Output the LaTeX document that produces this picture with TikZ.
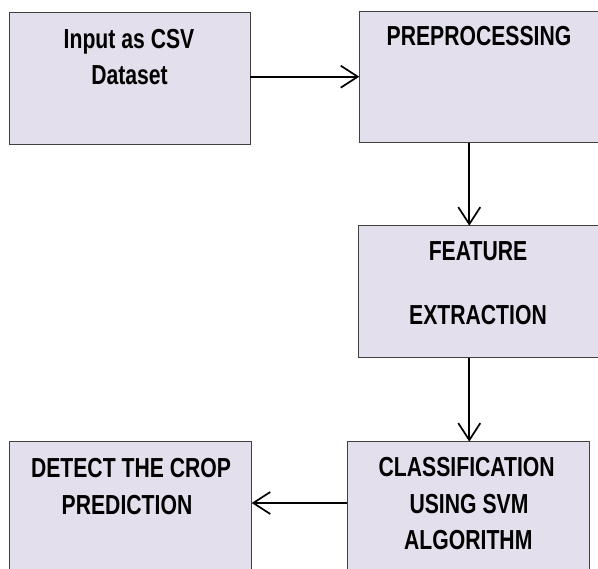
\documentclass[tikz,border=0pt]{standalone}
\usepackage{fontspec}
\setmainfont{Liberation Sans}[FakeStretch=0.77]
\usetikzlibrary{arrows.meta}
\definecolor{boxfill}{RGB}{228,223,236}
\definecolor{boxline}{RGB}{64,64,64}
\tikzset{
  box/.style={draw=boxline, line width=0.9pt, fill=boxfill, rectangle, anchor=north west, inner sep=0pt, outer sep=0pt},
  txt/.style={anchor=base, inner sep=0pt, font=\fontsize{27.5}{31}\selectfont\bfseries},
  conn/.style={line width=1.7pt, -{Straight Barb[length=17pt,width=22pt,line width=1.7pt]}},
}
\begin{document}
\begin{tikzpicture}[x=1pt,y=-1pt]
\useasboundingbox (0,0) rectangle (598,569);
\clip (0,0) rectangle (598,569);
% boxes
\node[box, minimum width=240.7pt, minimum height=132pt] (b1) at (9.3,12.3) {};
\node[box, minimum width=252pt, minimum height=131.7pt] (b2) at (359.3,11) {};
\node[box, minimum width=252pt, minimum height=132pt] (b3) at (358,225.7) {};
\node[box, minimum width=242pt, minimum height=140pt] (b4) at (347.3,441.7) {};
\node[box, minimum width=242.4pt, minimum height=140pt] (b5) at (9.3,441.7) {};
% texts
\node[txt] (t1a) at (129,48.3) {Input as CSV};
\node[txt] (t1b) at (129.5,85) {Dataset};
\node[txt] (t2a) at (479,46) {PREPROCESSING};
\node[txt] (t3a) at (478,261) {FEATURE};
\node[txt] (t3b) at (478,325) {EXTRACTION};
\node[txt] (t4a) at (466.7,476.7) {CLASSIFICATION};
\node[txt] (t4b) at (469,513.3) {USING SVM};
\node[txt] (t4c) at (468.3,550) {ALGORITHM};
\node[txt] (t5a) at (131,477.7) {DETECT THE CROP};
\node[txt] (t5b) at (127,515) {PREDICTION};
% helper coordinates
\coordinate (h1) at (0,76.7);
\coordinate (vx) at (469.3,0);
\coordinate (h4) at (0,503);
% connectors
\draw[conn] (b1.east |- h1) -- (b2.west |- h1);
\draw[conn] (b2.south -| vx) -- (b3.north -| vx);
\draw[conn] (b3.south -| vx) -- (b4.north -| vx);
\draw[conn] (b4.west |- h4) -- (b5.east |- h4);
\end{tikzpicture}
\end{document}
